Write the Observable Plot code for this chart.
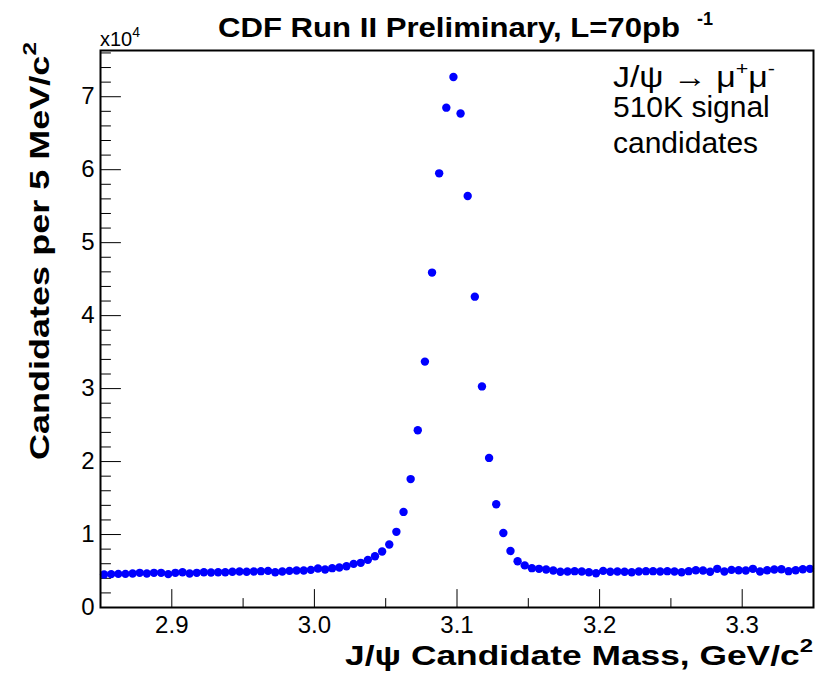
<!DOCTYPE html>
<html>
<head>
<meta charset="utf-8">
<script src="https://cdn.jsdelivr.net/npm/d3@7"></script>
<script src="https://cdn.jsdelivr.net/npm/@observablehq/plot@0.6"></script>
<style>
  html, body { margin: 0; padding: 0; background: #fff; }
  svg text { font-family: "Liberation Sans", Arial, Helvetica, sans-serif; }
</style>
</head>
<body>
<div id="chart"></div>
<script>
// Histogram definition: 100 bins of 5 MeV from 2.85 to 3.35 GeV/c^2
const binStart = 2.85;
const binWidth = 0.005;
// Candidates per bin
const counts = [
  4520, 4570, 4610, 4610, 4660, 4750, 4660, 4750, 4750, 4570,
  4750, 4840, 4660, 4750, 4840, 4790, 4840, 4840, 4890, 4930,
  4890, 4930, 4980, 5020, 4840, 4930, 5020, 5070, 5070, 5160,
  5340, 5210, 5390, 5480, 5660, 5980, 6120, 6530, 7030, 7670,
  8630, 10370, 13100, 17600, 24300, 33700, 45900, 59500, 68500, 72700,
  67700, 56400, 42600, 30300, 20500, 14150, 10200, 7750, 6340, 5770,
  5390, 5300, 5210, 5070, 4890, 4930, 4980, 4930, 4840, 4700,
  5020, 4890, 4930, 4890, 4840, 4930, 4980, 4980, 4930, 4980,
  4930, 4840, 4980, 5110, 5070, 4890, 5300, 4930, 5160, 5110,
  5070, 5300, 4930, 5110, 5210, 5250, 4980, 5110, 5250, 5300
];
const xDomain = [2.85, 3.35];
const xMajorTicks = [2.9, 3.0, 3.1, 3.2, 3.3];
const xMinorTicks = [2.95, 3.05, 3.15, 3.25];
const xTickLabels = ["2.9", "3.0", "3.1", "3.2", "3.3"];
const yMajorTicks = [0, 10000, 20000, 30000, 40000, 50000, 60000, 70000];
const yMinorTicks = d3.range(0, 76001, 2000).filter(v => v % 10000 !== 0);
const yTickLabels = ["0", "1", "2", "3", "4", "5", "6", "7"];
const yMax = 1.05 * d3.max(counts);

const data = counts.map((c, i) => ({mass: binStart + (i + 0.5) * binWidth, n: c}));

const tickShape = {draw(context, l) { context.moveTo(0, 0); context.lineTo(0, -l); }};

const svg = Plot.plot({
  width: 817,
  height: 685,
  marginLeft: 100,
  marginRight: 4,
  marginTop: 50,
  marginBottom: 78,
  style: {background: "#fff", overflow: "visible"},
  x: {domain: xDomain, label: null},
  y: {domain: [0, yMax], label: null},
  marks: [
    Plot.axisX(xMajorTicks, {tickSize: 0, tickPadding: 8, fontSize: 24, fill: "#000",
      tickFormat: (d, i) => xTickLabels[i], label: null}),
    Plot.axisY(yMajorTicks, {tickSize: 0, tickPadding: 6, fontSize: 24, fill: "#000",
      tickFormat: (d, i) => yTickLabels[i], label: null}),
    // inward ticks
    Plot.vector(xMajorTicks, {x: d => d, y: 0, length: 18, rotate: 0, anchor: "start", shape: tickShape, stroke: "#000", strokeWidth: 1}),
    Plot.vector(xMinorTicks, {x: d => d, y: 0, length: 9, rotate: 0, anchor: "start", shape: tickShape, stroke: "#000", strokeWidth: 1}),
    Plot.vector(yMajorTicks, {x: xDomain[0], y: d => d, length: 20, rotate: 90, anchor: "start", shape: tickShape, stroke: "#000", strokeWidth: 1}),
    Plot.vector(yMinorTicks, {x: xDomain[0], y: d => d, length: 10, rotate: 90, anchor: "start", shape: tickShape, stroke: "#000", strokeWidth: 1}),
    Plot.dot(data, {x: "mass", y: "n", r: 4.2, fill: "#0000ff", stroke: "none"}),
    Plot.frame({stroke: "#000", strokeWidth: 2})
  ]
});

const s = d3.select(svg);
const font = '"Liberation Sans", Arial, Helvetica, sans-serif';
function txt(x, y, size, bold) {
  return s.append("text").attr("x", x).attr("y", y)
    .attr("font-size", size).attr("font-weight", bold ? "bold" : "normal")
    .attr("fill", "#000").attr("text-anchor", "start")
    .style("font-family", font);
}

// Title
txt(218, 37, 28, true)
  .attr("textLength", 462).attr("lengthAdjust", "spacingAndGlyphs")
  .text("CDF Run II Preliminary, L=70pb");
txt(697, 25, 18, true).text("-1");

// x10^4 exponent label
const ex = txt(100, 46, 20, false);
ex.append("tspan").text("x10");
ex.append("tspan").attr("dy", -9).attr("font-size", 14).text("4");

// Annotation
const a1 = txt(613, 87, 30, false)
  .attr("textLength", 162).attr("lengthAdjust", "spacingAndGlyphs");
a1.append("tspan").text("J/\u03c8 \u2192 \u03bc");
a1.append("tspan").attr("dy", -12).attr("font-size", 19).text("+");
a1.append("tspan").attr("dy", 12).text("\u03bc");
a1.append("tspan").attr("dy", -12).attr("font-size", 19).text("-");
txt(613, 117, 30, false).text("510K signal");
txt(613, 153, 30, false).text("candidates");

// x-axis title
const xt = txt(345, 665, 28, true)
  .attr("textLength", 468).attr("lengthAdjust", "spacingAndGlyphs");
xt.append("tspan").text("J/\u03c8 Candidate Mass, GeV/c");
xt.append("tspan").attr("dy", -13).attr("font-size", 19).text("2");

// y-axis title
const yt = txt(0, 0, 28, true).attr("x", null).attr("y", null)
  .attr("transform", "translate(49,460) rotate(-90)")
  .attr("textLength", 418).attr("lengthAdjust", "spacingAndGlyphs");
yt.append("tspan").text("Candidates per 5 MeV/c");
yt.append("tspan").attr("dy", -13).attr("font-size", 19).text("2");

document.getElementById("chart").appendChild(svg);
</script>
</body>
</html>
